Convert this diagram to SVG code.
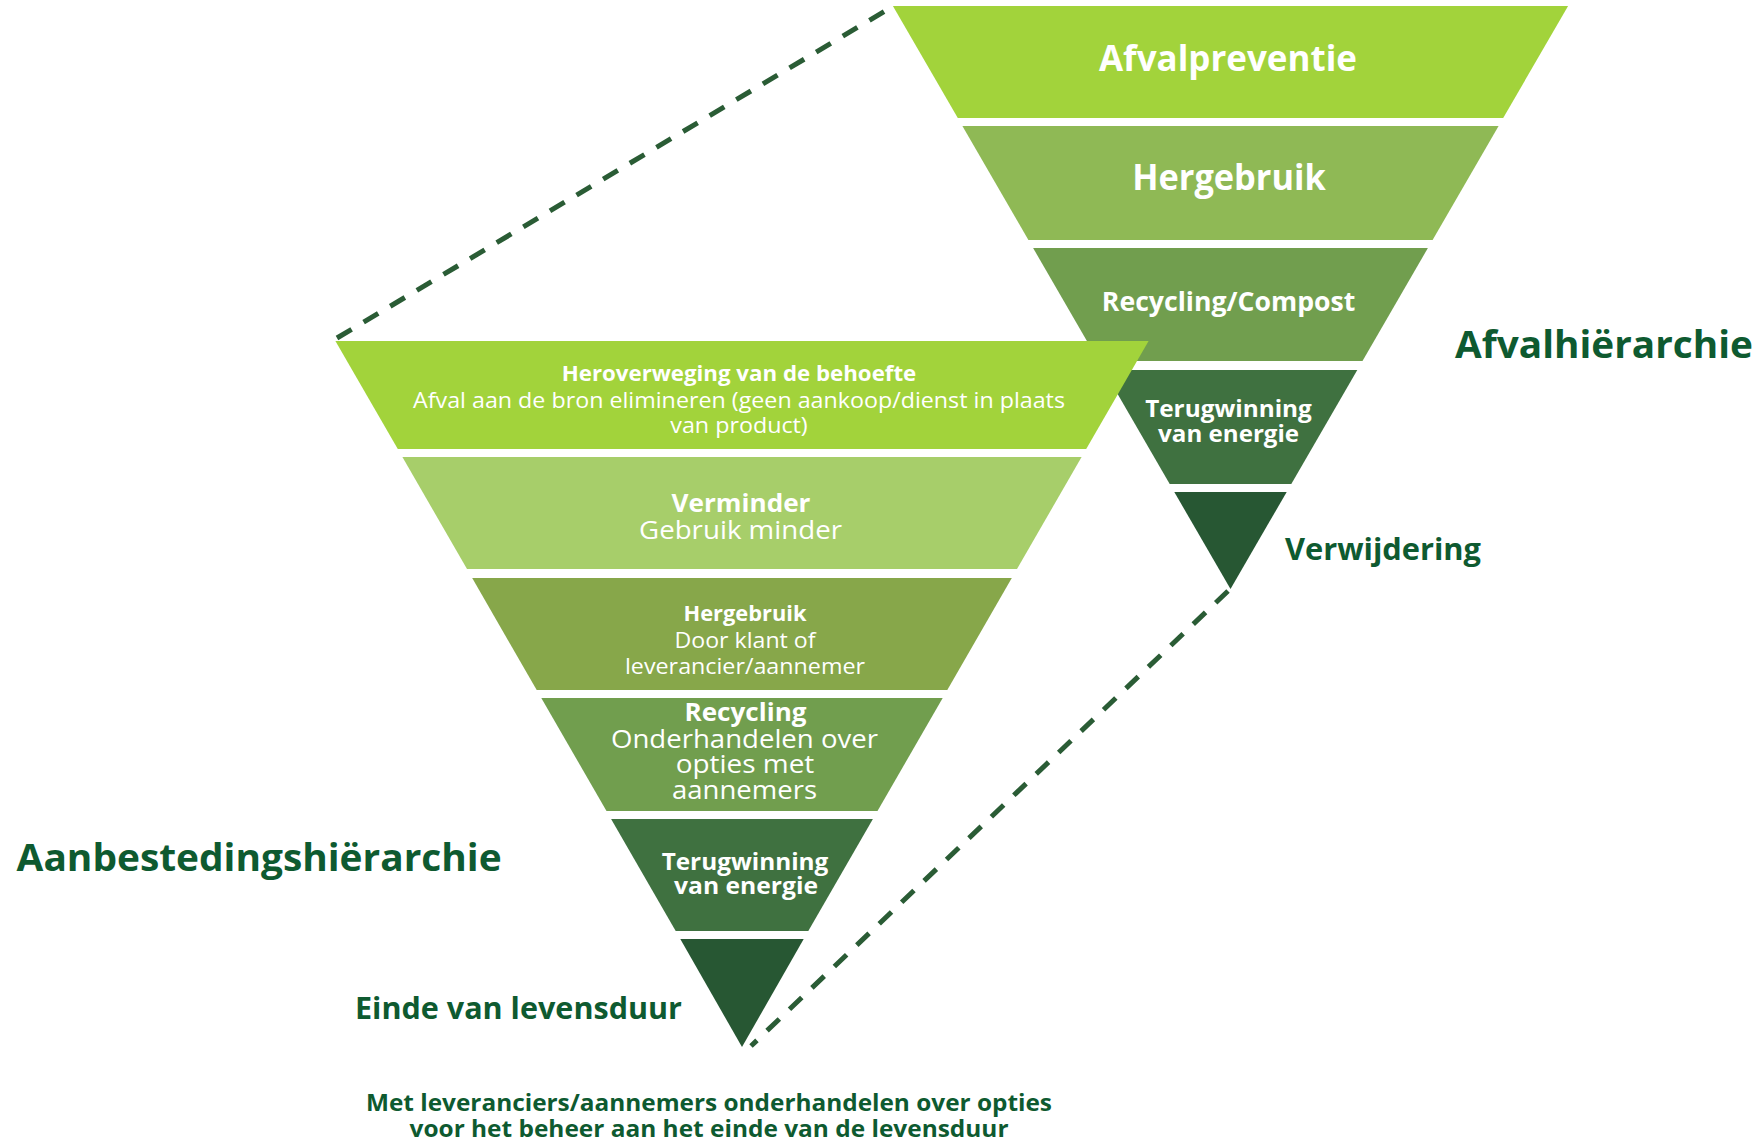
<svg xmlns="http://www.w3.org/2000/svg" width="1762" height="1142" viewBox="0 0 1762 1142">
<style>
.t{font-family:"Open Sans","Noto Sans","Liberation Sans",sans-serif;fill:#ffffff;text-anchor:middle}
.b{font-weight:700}
.r{font-weight:400}
.lbl{font-family:"Open Sans","Noto Sans","Liberation Sans",sans-serif;font-weight:700;fill:#0E5A30}
.dash{fill:none;stroke:#2A5C35;stroke-width:5;stroke-dasharray:17 14}
.c1{fill:#A2D33B}.c2{fill:#8FB955}.c3{fill:#719E4E}.c4{fill:#3F7140}.c5{fill:#275733}
.l2{fill:#A7CE6A}.l3{fill:#87A74A}
</style>
<rect width="1762" height="1142" fill="#ffffff"/>

<g id="afvalhierarchie">
  <g id="r-afvalpreventie">
    <polygon class="c1" points="892.9,6 1568.1,6 1503.2,118 957.8,118"/>
    <text class="t b" x="1228" y="71" font-size="36" textLength="258" lengthAdjust="spacingAndGlyphs">Afvalpreventie</text>
  </g>
  <g id="r-hergebruik">
    <polygon class="c2" points="962.4,126 1498.6,126 1432.6,240 1028.4,240"/>
    <text class="t b" x="1229" y="190" font-size="36" textLength="193.5" lengthAdjust="spacingAndGlyphs">Hergebruik</text>
  </g>
  <g id="r-recycling">
    <polygon class="c3" points="1033.1,248 1427.9,248 1362.5,361 1098.5,361"/>
    <text class="t b" x="1228.6" y="311" font-size="27.5" textLength="253.5" lengthAdjust="spacingAndGlyphs">Recycling/Compost</text>
  </g>
  <g id="r-terugwinning">
    <polygon class="c4" points="1103.7,370 1357.3,370 1291.3,484 1169.7,484"/>
    <text class="t b" x="1228.5" y="417" font-size="23" textLength="166.7" lengthAdjust="spacingAndGlyphs">Terugwinning</text>
    <text class="t b" x="1228.6" y="442" font-size="23" textLength="141" lengthAdjust="spacingAndGlyphs">van energie</text>
  </g>
  <g id="r-verwijdering">
    <polygon class="c5" points="1174.3,492 1286.7,492 1230.5,589"/>
    <text class="lbl" x="1285" y="560" font-size="30" textLength="196" lengthAdjust="spacingAndGlyphs">Verwijdering</text>
  </g>
  <g id="r-title">
    <text class="lbl" x="1455" y="358" font-size="38" textLength="298" lengthAdjust="spacingAndGlyphs">Afvalhiërarchie</text>
  </g>
</g>

<g id="aanbestedingshierarchie">
  <g id="l-heroverweging">
    <polygon class="c1" points="335.4,341 1148.6,341 1086.2,449 397.8,449"/>
    <text class="t b" x="739" y="380.7" font-size="21" textLength="354.6" lengthAdjust="spacingAndGlyphs">Heroverweging van de behoefte</text>
    <text class="t r" x="739" y="407.5" font-size="22" textLength="652" lengthAdjust="spacingAndGlyphs">Afval aan de bron elimineren (geen aankoop/dienst in plaats</text>
    <text class="t r" x="739" y="433" font-size="22" textLength="137.5" lengthAdjust="spacingAndGlyphs">van product)</text>
  </g>
  <g id="l-verminder">
    <polygon class="l2" points="402.4,457 1081.6,457 1017,569 467,569"/>
    <text class="t b" x="741" y="511.7" font-size="25" textLength="139" lengthAdjust="spacingAndGlyphs">Verminder</text>
    <text class="t r" x="740.5" y="539" font-size="26" textLength="203" lengthAdjust="spacingAndGlyphs">Gebruik minder</text>
  </g>
  <g id="l-hergebruik">
    <polygon class="l3" points="472.2,578 1011.8,578 947.3,690 536.7,690"/>
    <text class="t b" x="745" y="620.7" font-size="21" textLength="123" lengthAdjust="spacingAndGlyphs">Hergebruik</text>
    <text class="t r" x="745" y="647.5" font-size="22" textLength="141" lengthAdjust="spacingAndGlyphs">Door klant of</text>
    <text class="t r" x="745" y="674" font-size="22" textLength="240" lengthAdjust="spacingAndGlyphs">leverancier/aannemer</text>
  </g>
  <g id="l-recycling">
    <polygon class="c3" points="541.3,698 942.7,698 877.5,811 606.5,811"/>
    <text class="t b" x="745.5" y="721" font-size="25" textLength="122" lengthAdjust="spacingAndGlyphs">Recycling</text>
    <text class="t r" x="744.5" y="748" font-size="25" textLength="267" lengthAdjust="spacingAndGlyphs">Onderhandelen over</text>
    <text class="t r" x="745" y="773" font-size="25" textLength="138.6" lengthAdjust="spacingAndGlyphs">opties met</text>
    <text class="t r" x="744.5" y="799" font-size="25" textLength="145" lengthAdjust="spacingAndGlyphs">aannemers</text>
  </g>
  <g id="l-terugwinning">
    <polygon class="c4" points="611.1,819 872.9,819 808.3,931 675.7,931"/>
    <text class="t b" x="745" y="870" font-size="23" textLength="166.7" lengthAdjust="spacingAndGlyphs">Terugwinning</text>
    <text class="t b" x="746" y="894" font-size="23" textLength="144" lengthAdjust="spacingAndGlyphs">van energie</text>
  </g>
  <g id="l-einde">
    <polygon class="c5" points="680.3,939 803.7,939 742,1047"/>
    <text class="lbl" x="355" y="1019" font-size="30" textLength="327" lengthAdjust="spacingAndGlyphs">Einde van levensduur</text>
  </g>
  <g id="l-title">
    <text class="lbl" x="16.6" y="871" font-size="38" textLength="485" lengthAdjust="spacingAndGlyphs">Aanbestedingshiërarchie</text>
  </g>
  <g id="l-note">
    <text class="lbl" x="709" y="1111" font-size="23" text-anchor="middle" textLength="686" lengthAdjust="spacingAndGlyphs">Met leveranciers/aannemers onderhandelen over opties</text>
    <text class="lbl" x="709" y="1137" font-size="23" text-anchor="middle" textLength="599" lengthAdjust="spacingAndGlyphs">voor het beheer aan het einde van de levensduur</text>
  </g>
</g>

<g id="connectors">
  <line class="dash" x1="337" y1="338" x2="890" y2="8"/>
  <line class="dash" x1="1228" y1="591" x2="751" y2="1046"/>
</g>
</svg>
